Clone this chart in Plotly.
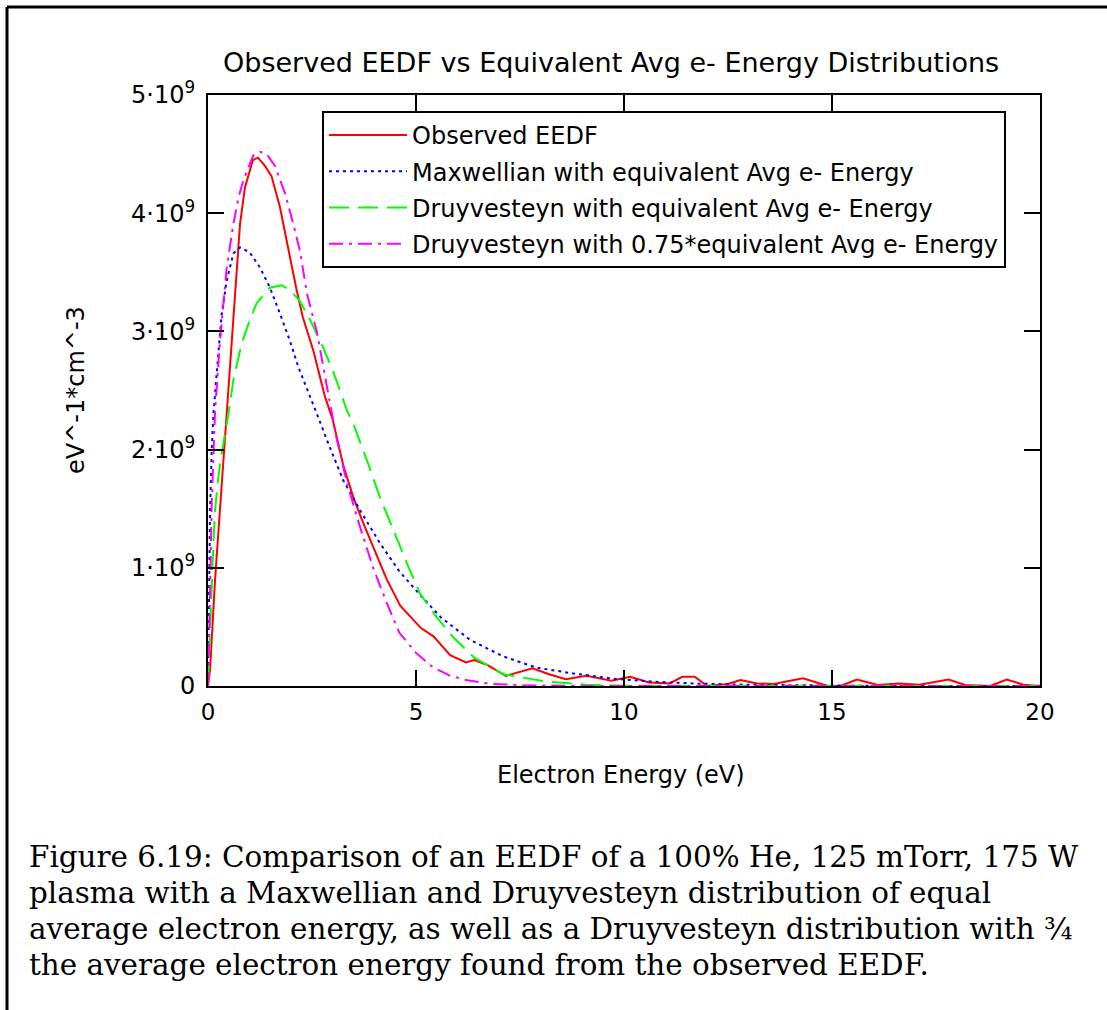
import plotly.graph_objects as go

# ---------------- data ----------------
obs_x = [0, 0.05, 0.17, 0.29, 0.45, 0.6, 0.77, 0.89, 1.08, 1.2, 1.37, 1.53, 1.73, 1.97, 2.13,
         2.28, 2.53, 2.81, 3.0, 3.25, 3.49, 3.73, 3.97, 4.3, 4.62, 5.12, 5.42, 5.82, 6.2, 6.4,
         6.7, 7.16, 7.8, 8.2, 8.6, 9.1, 9.7, 10.15, 10.6, 11.1, 11.4, 11.7, 12.0, 12.5, 12.8,
         13.2, 13.6, 14.3, 14.9, 15.2, 15.6, 16.1, 16.6, 17.1, 17.8, 18.2, 18.8, 19.2, 19.6, 20]
obs_y = [0, 0.14, 0.9, 1.5, 2.33, 3.1, 3.91, 4.22, 4.45, 4.47, 4.4, 4.31, 4.05, 3.63, 3.35,
         3.12, 2.84, 2.45, 2.25, 1.87, 1.6, 1.38, 1.18, 0.9, 0.68, 0.49, 0.42, 0.26, 0.2, 0.22,
         0.18, 0.086, 0.15, 0.1, 0.058, 0.086, 0.044, 0.078, 0.03, 0.022, 0.078, 0.078, 0.0, 0.017, 0.05,
         0.022, 0.017, 0.066, 0.0, 0.0, 0.055, 0.008, 0.022, 0.011, 0.055, 0.008, 0.0, 0.055, 0.011, 0]

max_x = [0, 0.02, 0.05, 0.09, 0.13, 0.25, 0.33, 0.45, 0.61, 0.77, 1.0, 1.25, 1.49, 1.73, 1.97,
         2.17, 2.38, 2.62, 2.86, 3.25, 3.65, 4.13, 4.6, 5.1, 5.6, 6.3, 7.1, 7.9, 8.8, 9.8, 10.8,
         11.8, 13.0, 14.0, 16.0, 20]
max_y = [0, 0.9, 1.5, 2.0, 2.3, 2.82, 3.15, 3.43, 3.66, 3.71, 3.67, 3.54, 3.37, 3.15, 2.92,
         2.7, 2.52, 2.3, 2.08, 1.74, 1.49, 1.21, 0.97, 0.77, 0.58, 0.39, 0.25, 0.155, 0.105, 0.06, 0.035,
         0.02, 0.01, 0.005, 0.001, 0]

dru_x = [0, 0.05, 0.09, 0.13, 0.17, 0.25, 0.33, 0.49, 0.61, 0.81, 1.0, 1.17, 1.49, 1.77, 1.97,
         2.2, 2.45, 2.76, 3.0, 3.34, 3.49, 3.82, 4.13, 4.45, 4.78, 5.1, 5.5, 5.9, 6.4, 7.1, 8.1,
         9.1, 10.0, 20]
dru_y = [0, 0.5, 0.92, 1.21, 1.49, 1.77, 1.97, 2.3, 2.59, 2.9, 3.09, 3.24, 3.37, 3.39, 3.35,
         3.26, 3.1, 2.87, 2.67, 2.33, 2.22, 1.91, 1.6, 1.32, 1.04, 0.78, 0.58, 0.41, 0.24, 0.1, 0.039,
         0.011, 0.003, 0]

dru75_x = [0, 0.03, 0.05, 0.09, 0.13, 0.17, 0.29, 0.37, 0.45, 0.61, 0.73, 0.85, 1.09, 1.25, 1.41,
           1.61, 1.85, 2.05, 2.21, 2.38, 2.62, 2.86, 3.1, 3.34, 3.65, 3.97, 4.3, 4.6, 5.0, 5.4,
           5.8, 6.2, 6.8, 7.6, 9.0, 20]
dru75_y = [0, 0.36, 0.79, 1.55, 1.91, 2.33, 2.92, 3.26, 3.54, 3.91, 4.13, 4.28, 4.49, 4.52, 4.5,
           4.4, 4.17, 3.91, 3.68, 3.32, 2.99, 2.53, 2.08, 1.72, 1.35, 1.0, 0.7, 0.45, 0.28, 0.16,
           0.09, 0.05, 0.018, 0.006, 0.001, 0]

series_names = ["Observed EEDF",
                "Maxwellian with equivalent Avg e- Energy",
                "Druyvesteyn with equivalent Avg e- Energy",
                "Druyvesteyn with 0.75*equivalent Avg e- Energy"]

x_ticks = [0, 5, 10, 15, 20]
y_tick_vals = [0, 1e9, 2e9, 3e9, 4e9, 5e9]
y_tick_text = ["0", "1·10<sup>9</sup>", "2·10<sup>9</sup>", "3·10<sup>9</sup>",
               "4·10<sup>9</sup>", "5·10<sup>9</sup>"]

title_text = "Observed EEDF vs Equivalent Avg e- Energy Distributions"
x_title = "Electron Energy (eV)"
y_title = "eV^-1*cm^-3"
caption_lines = [
    "Figure 6.19: Comparison of an EEDF of a 100% He, 125 mTorr, 175 W",
    "plasma with a Maxwellian and Druyvesteyn distribution of equal",
    "average electron energy, as well as a Druyvesteyn distribution with ¾",
    "the average electron energy found from the observed EEDF.",
]

# ---------------- layout geometry ----------------
W, H = 1107, 1010
L, R, T, B = 208, 1040, 95, 686   # plot area in pixels
PW, PH = R - L, B - T


def px(x):
    return (x - L) / PW


def py(y):
    return (B - y) / PH


FONT = "DejaVu Sans"
fig = go.Figure()

styles = [
    dict(color="#FF0000", width=2, dash="solid"),
    dict(color="#0000FF", width=2, dash="3px,4px"),
    dict(color="#00FF00", width=2, dash="20px,9px"),
    dict(color="#FF00FF", width=2, dash="14px,6px,3px,6px"),
]
data = [(obs_x, obs_y), (max_x, max_y), (dru_x, dru_y), (dru75_x, dru75_y)]
for i, ((xs, ys), name, st) in enumerate(zip(data, series_names, styles)):
    fig.add_trace(go.Scatter(
        x=xs, y=[v * 1e9 for v in ys], mode="lines", name=name,
        line=st, legendgroup=f"g{i}", showlegend=True,
    ))

axis_common = dict(
    showline=True, linecolor="black", linewidth=2, mirror="allticks",
    ticks="inside", ticklen=16, tickwidth=2, tickcolor="black",
    showgrid=False, zeroline=False,
    tickfont=dict(family=FONT, size=23, color="black"),
)

fig.update_layout(
    width=W, height=H,
    margin=dict(l=L, r=W - R, t=T, b=H - B),
    paper_bgcolor="white", plot_bgcolor="white",
    font=dict(family=FONT, color="black"),
    xaxis=dict(range=[0, 20], tickvals=x_ticks, ticklabelstandoff=4, **axis_common),
    yaxis=dict(range=[0, 5e9], tickvals=y_tick_vals, ticktext=y_tick_text,
               ticklabelstandoff=6,
               **{**axis_common, "tickfont": dict(family=FONT, size=24, color="black")}),
    legend=dict(
        x=px(322), y=py(111), xanchor="left", yanchor="top",
        bordercolor="black", borderwidth=2, bgcolor="white",
        font=dict(family=FONT, size=24, color="black"),
        itemwidth=78, tracegroupgap=2,
    ),
    showlegend=True,
)

annotations = [
    dict(text=title_text, x=px(611), y=py(63), xref="paper", yref="paper",
         xanchor="center", yanchor="middle", showarrow=False,
         font=dict(family=FONT, size=27, color="black")),
    dict(text=x_title, x=px(621), y=py(775), xref="paper", yref="paper",
         xanchor="center", yanchor="middle", showarrow=False,
         font=dict(family=FONT, size=24, color="black")),
    dict(text=y_title, x=px(76), y=py(390), xref="paper", yref="paper",
         xanchor="center", yanchor="middle", showarrow=False, textangle=-90,
         font=dict(family=FONT, size=24, color="black")),
]
cap_y = [857, 893, 929, 965]
for line, yy in zip(caption_lines, cap_y):
    annotations.append(dict(
        text=line, x=px(27), y=py(yy), xref="paper", yref="paper",
        xanchor="left", yanchor="middle", showarrow=False,
        font=dict(family="DejaVu Serif", size=29.4, color="black")))
fig.update_layout(annotations=annotations)

# page frame lines (top and left edges of the figure box)
fig.add_shape(type="line", xref="paper", yref="paper",
              x0=px(7), x1=px(1107), y0=py(7), y1=py(7),
              line=dict(color="black", width=3))
fig.add_shape(type="line", xref="paper", yref="paper",
              x0=px(7), x1=px(7), y0=py(7), y1=py(1010),
              line=dict(color="black", width=3))

fig.write_html("out.html")
